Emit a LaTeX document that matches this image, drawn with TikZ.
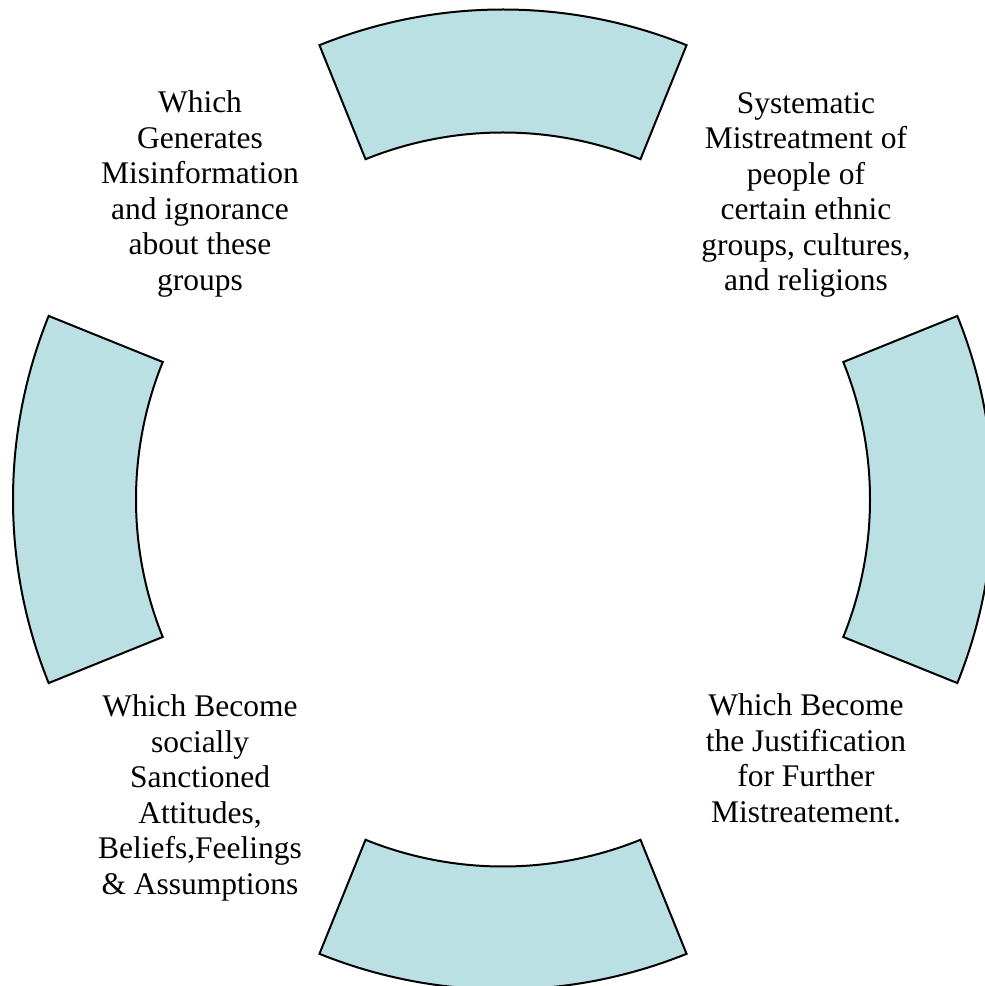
\documentclass[tikz,border=0pt]{standalone}
\usepackage{fontspec}
\setmainfont{Liberation Serif}
\definecolor{segfill}{HTML}{BBE0E3}
\tikzset{
  seg/.style={fill=segfill, draw=black, line width=2pt, line join=miter},
  lbl/.style={anchor=north, inner sep=0pt, align=center,
    font=\fontsize{31.5}{35.5}\selectfont}
}
\begin{document}
\begin{tikzpicture}[x=1pt,y=1pt]
\useasboundingbox (0,0) rectangle (985,986);
\coordinate (c) at (503,486.5);
\foreach \m in {0,90,180,270}{
  \pgfmathsetmacro{\aa}{\m-22}
  \pgfmathsetmacro{\ab}{\m+22}
  \draw[seg] ([shift={(\aa:490pt)}]c) arc[start angle=\aa, end angle=\ab, radius=490pt]
    -- ([shift={(\ab:367pt)}]c) arc[start angle=\ab, end angle=\aa, radius=367pt] -- cycle;
}
\node[lbl] (tl) at (200,895.5) {Which\\Generates\\Misinformation\\and ignorance\\about these\\groups};
\node[lbl] (tr) at (806,894) {Systematic\\Mistreatment of\\people of\\certain ethnic\\groups, cultures,\\and religions};
\node[lbl] (bl) at (200,291.5) {Which Become\\socially\\Sanctioned\\Attitudes,\\Beliefs,Feelings\\\& Assumptions};
\node[lbl] (br) at (806,292.5) {Which Become\\the Justification\\for Further\\Mistreatement.};
\end{tikzpicture}
\end{document}
